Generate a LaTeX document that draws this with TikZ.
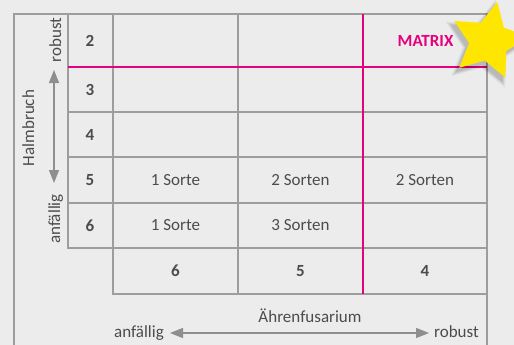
\documentclass[tikz,border=0pt]{standalone}
\usepackage{fontspec}
\setmainfont{Carlito}
\usetikzlibrary{arrows.meta}
\definecolor{bgGray}{HTML}{ECECEC}
\definecolor{lineGray}{HTML}{9D9D9D}
\definecolor{arrowGray}{HTML}{8E8E8E}
\definecolor{txtGray}{HTML}{4C4C4C}
\definecolor{matrixPink}{HTML}{E5007D}
\definecolor{starYellow}{HTML}{FFE600}

\begin{document}
\begin{tikzpicture}[x=1pt,y=-1pt,
    every node/.style={text=txtGray,inner sep=0pt,font=\fontsize{17}{19}\selectfont},
    num/.style={font=\fontsize{17}{19}\selectfont\bfseries},
    grid/.style={draw=lineGray,line width=1.3pt},
    pinkline/.style={draw=matrixPink,line width=2.2pt},
    axis/.style={draw=arrowGray,line width=1.2pt,{Triangle[length=13pt,width=10pt]}-{Triangle[length=13pt,width=10pt]}}]
    \useasboundingbox[fill=bgGray] (0,0) rectangle (514,345);

    \draw[grid] (14,345) -- (14,14) -- (487,14) -- (487,345);
    \draw[grid] (68,14) -- (68,248) -- (113,248);
    \draw[grid] (113,14) -- (113,294) -- (487,294);
    \draw[grid] (238,14) -- (238,294);
    \foreach \y in {112,157,203,248} {
        \draw[grid] (68,\y) -- (487,\y);
    }
    \draw[pinkline] (68,67) -- (487,67);
    \draw[pinkline] (363,14) -- (363,294);

    \node[num] (r2) at (90,40.5) {2};
    \node[num] (r3) at (90,89.5) {3};
    \node[num] (r4) at (90,134.5) {4};
    \node[num] (r5) at (90,180) {5};
    \node[num] (r6) at (90,225.5) {6};
    \node[num] (c6) at (175.5,271) {6};
    \node[num] (c5) at (300.5,271) {5};
    \node[num] (c4) at (425,271) {4};

    \node (s56) at (175.5,180) {1 Sorte};
    \node (s55) at (300.5,180) {2 Sorten};
    \node (s54) at (425,180) {2 Sorten};
    \node (s66) at (175.5,225.5) {1 Sorte};
    \node (s65) at (300.5,225.5) {3 Sorten};

    \node[num,text=matrixPink] (matrix) at (425.5,40.5) {MATRIX};

    \node[rotate=90,anchor=base] (halm) at (34,128) {Halmbruch};
    \node[rotate=90,anchor=base] (halmRob) at (61,40) {robust};
    \node[rotate=90,anchor=base] (halmAnf) at (60,219) {anfällig};
    \coordinate (halmTop) at (54,70);
    \coordinate (halmBot) at (54,183);
    \draw[axis] (halmBot) -- (halmTop);

    \node[anchor=base] (fus) at (310,322) {Ährenfusarium};
    \node[anchor=base east] (fusAnf) at (164,337) {anfällig};
    \node[anchor=base west] (fusRob) at (434,337) {robust};
    \coordinate (fusLeft) at (170,333);
    \coordinate (fusRight) at (429,333);
    \draw[axis] (fusLeft) -- (fusRight);

    % star with soft shadow
    \begin{scope}[shift={(486,45)}]
        \foreach \o/\R in {0.04/47,0.05/45,0.06/43,0.08/41} {
            \fill[black,opacity=\o] (-78:\R) \foreach \i [evaluate=\i as \r using {mod(\i,2)==0 ? \R : 0.5*\R}] in {1,...,9} { -- ({-78-36*\i}:\r) } -- cycle;
        }
    \end{scope}
    \begin{scope}[shift={(489,41)}]
        \fill[starYellow] (-78:40) \foreach \i [evaluate=\i as \r using {mod(\i,2)==0 ? 40 : 20}] in {1,...,9} { -- ({-78-36*\i}:\r) } -- cycle;
    \end{scope}
\end{tikzpicture}
\end{document}
